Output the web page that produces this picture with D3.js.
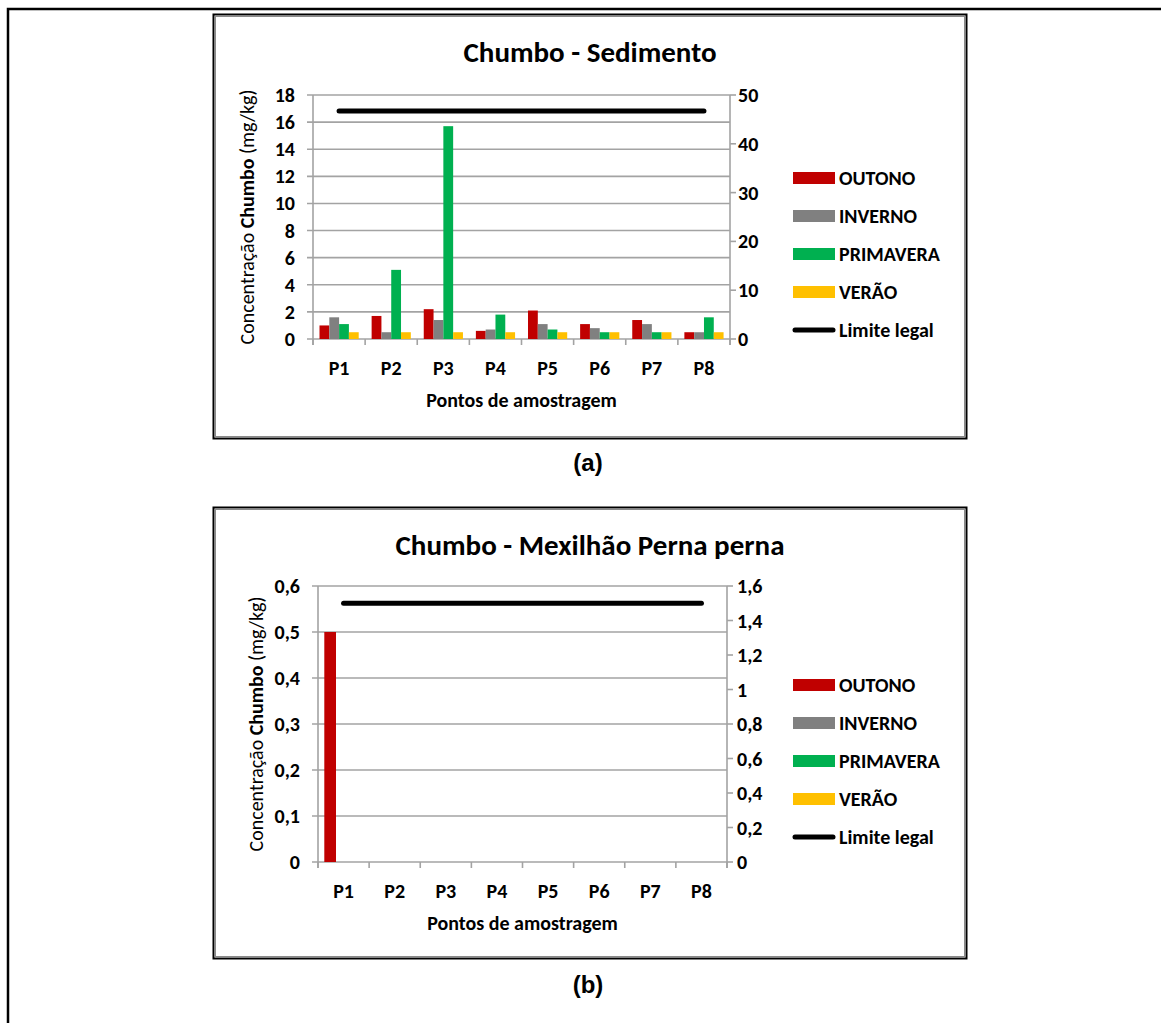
<!DOCTYPE html>
<html><head><meta charset="utf-8">
<script src="https://cdn.jsdelivr.net/npm/d3@7"></script>
<style>
body{margin:0;background:#fff}
svg{display:block}
text{font-family:Carlito,Lato,"Liberation Sans",sans-serif;fill:#000}
</style>
</head><body>
<svg id="c" width="1161" height="1023"></svg>
<script>
// ---------- DATA ----------
const categories = ["P1","P2","P3","P4","P5","P6","P7","P8"];
const seriesNames = ["OUTONO","INVERNO","PRIMAVERA","VERÃO"];
const seriesColors = ["#C00000","#808080","#00B050","#FFC000"];
const limitName = "Limite legal";

// (a) Chumbo - Sedimento (mg/kg), left axis
const sedOutono    = [1.0, 1.7, 2.2, 0.6, 2.1, 1.1, 1.4, 0.5];
const sedInverno   = [1.6, 0.5, 1.4, 0.7, 1.1, 0.8, 1.1, 0.5];
const sedPrimavera = [1.1, 5.1, 15.7, 1.8, 0.7, 0.5, 0.5, 1.6];
const sedVerao     = [0.5, 0.5, 0.5, 0.5, 0.5, 0.5, 0.5, 0.5];
// legal limit, right axis
const sedLimite    = [46.7, 46.7, 46.7, 46.7, 46.7, 46.7, 46.7, 46.7];
const sedLeftTicks  = [0, 2, 4, 6, 8, 10, 12, 14, 16, 18];
const sedRightTicks = [0, 10, 20, 30, 40, 50];

// (b) Chumbo - Mexilhão Perna perna (mg/kg), left axis
const musOutono    = [0.5, 0, 0, 0, 0, 0, 0, 0];
const musInverno   = [0, 0, 0, 0, 0, 0, 0, 0];
const musPrimavera = [0, 0, 0, 0, 0, 0, 0, 0];
const musVerao     = [0, 0, 0, 0, 0, 0, 0, 0];
// legal limit, right axis
const musLimite    = [1.5, 1.5, 1.5, 1.5, 1.5, 1.5, 1.5, 1.5];
const musLeftTicks  = [0, 0.1, 0.2, 0.3, 0.4, 0.5, 0.6];
const musRightTicks = [0, 0.2, 0.4, 0.6, 0.8, 1, 1.2, 1.4, 1.6];

// ---------- DRAW ----------
const loc = d3.formatLocale({decimal: ",", thousands: ".", grouping: [3], currency: ["", ""]});
const fmt = loc.format("~g");
const svg = d3.select("#c");

// outer page frame (top and left edges)
svg.append("path").attr("d", "M8,1023 V9 H1161").attr("fill", "none")
  .attr("stroke", "#000").attr("stroke-width", 2.5);

const GRID = "#a3a3a3";
const FS = 20;

function drawChart(cfg) {
  const g = svg.append("g");
  const [fx, fy, fw, fh] = cfg.frame;
  g.append("rect").attr("x", fx).attr("y", fy).attr("width", fw).attr("height", fh)
    .attr("fill", "#fff").attr("stroke", "#000").attr("stroke-width", 2);
  g.append("rect").attr("x", fx + 1.8).attr("y", fy + 1.8).attr("width", fw - 3.6).attr("height", fh - 3.6)
    .attr("fill", "none").attr("stroke", "#8a8a8a").attr("stroke-width", 1.4);

  const x = d3.scaleBand().domain(categories).range([cfg.px0, cfg.px1]).padding(0);
  const inner = d3.scaleBand().domain(seriesNames)
    .range([cfg.barOff, cfg.barOff + seriesNames.length * cfg.barW]).padding(0);
  const yL = d3.scaleLinear().domain([cfg.leftTicks[0], cfg.leftTicks[cfg.leftTicks.length - 1]]).range([cfg.py1, cfg.py0]);
  const yR = d3.scaleLinear().domain([cfg.rightTicks[0], cfg.rightTicks[cfg.rightTicks.length - 1]]).range([cfg.py1, cfg.py0]);

  // gridlines (extend left as tick marks)
  g.selectAll("line.grid").data(cfg.leftTicks).join("line")
    .attr("x1", cfg.px0 - 6).attr("x2", cfg.px1)
    .attr("y1", d => yL(d)).attr("y2", d => yL(d))
    .attr("stroke", GRID).attr("stroke-width", 1.6);
  // left axis line
  g.append("line").attr("x1", cfg.px0).attr("x2", cfg.px0).attr("y1", cfg.py0).attr("y2", cfg.py1 + 6)
    .attr("stroke", GRID).attr("stroke-width", 1.6);
  // right axis line + ticks
  g.append("line").attr("x1", cfg.px1).attr("x2", cfg.px1).attr("y1", cfg.py0).attr("y2", cfg.py1 + 6)
    .attr("stroke", GRID).attr("stroke-width", 1.6);
  g.selectAll("line.rt").data(cfg.rightTicks).join("line")
    .attr("x1", cfg.px1).attr("x2", cfg.px1 + 6)
    .attr("y1", d => yR(d)).attr("y2", d => yR(d))
    .attr("stroke", GRID).attr("stroke-width", 1.6);
  // bottom ticks at category boundaries
  const bounds = categories.map(c => x(c)).concat([x(categories[categories.length - 1]) + x.bandwidth()]);
  g.selectAll("line.bt").data(bounds).join("line")
    .attr("x1", d => d).attr("x2", d => d).attr("y1", cfg.py1).attr("y2", cfg.py1 + 6)
    .attr("stroke", GRID).attr("stroke-width", 1.6);

  // bars
  cfg.series.forEach((vals, si) => {
    g.selectAll(null).data(vals.map((v, i) => ({v, c: categories[i]}))).join("rect")
      .attr("x", d => x(d.c) + inner(seriesNames[si]))
      .attr("width", inner.bandwidth())
      .attr("y", d => yL(d.v))
      .attr("height", d => yL(0) - yL(d.v))
      .attr("fill", seriesColors[si]);
  });

  // legal limit line (right axis)
  const line = d3.line().x((d, i) => x(categories[i]) + x.bandwidth() / 2).y(d => yR(d));
  g.append("path").attr("d", line(cfg.limit)).attr("fill", "none")
    .attr("stroke", "#000").attr("stroke-width", 5).attr("stroke-linecap", "round");

  // tick labels
  g.selectAll("text.lt").data(cfg.leftTicks).join("text")
    .attr("x", cfg.px0 - 18).attr("y", d => yL(d)).attr("dy", "0.35em")
    .attr("text-anchor", "end").attr("font-weight", "bold").attr("font-size", FS)
    .text(d => fmt(d));
  g.selectAll("text.rtl").data(cfg.rightTicks).join("text")
    .attr("x", cfg.px1 + cfg.rLabGap).attr("y", d => yR(d)).attr("dy", "0.35em")
    .attr("text-anchor", "start").attr("font-weight", "bold").attr("font-size", FS)
    .text(d => fmt(d));
  g.selectAll("text.cat").data(categories).join("text")
    .attr("x", d => x(d) + x.bandwidth() / 2).attr("y", cfg.py1 + 29)
    .attr("dy", "0.35em").attr("text-anchor", "middle").attr("font-weight", "bold").attr("font-size", FS)
    .text(d => d);

  // titles
  g.append("text").attr("x", cfg.titleX).attr("y", cfg.titleY).attr("dy", "0.35em")
    .attr("text-anchor", "middle").attr("font-weight", "bold").attr("font-size", 29)
    .text(cfg.title);
  g.append("text").attr("x", (cfg.px0 + cfg.px1) / 2).attr("y", cfg.py1 + 61).attr("dy", "0.35em")
    .attr("text-anchor", "middle").attr("font-weight", "bold").attr("font-size", FS)
    .text("Pontos de amostragem");
  const yt = g.append("text")
    .attr("transform", `translate(${cfg.yTitleX},${(cfg.py0 + cfg.py1) / 2}) rotate(-90)`)
    .attr("dy", "0.35em").attr("text-anchor", "middle").attr("font-size", FS);
  yt.append("tspan").text("Concentração ");
  yt.append("tspan").attr("font-weight", "bold").text("Chumbo");
  yt.append("tspan").text(" (mg/kg)");

  // legend
  const leg = g.append("g");
  const items = seriesNames.map((n, i) => ({n, c: seriesColors[i], line: false}))
    .concat([{n: limitName, c: "#000", line: true}]);
  items.forEach((it, i) => {
    const yy = cfg.legY + i * 38;
    if (it.line) {
      leg.append("line").attr("x1", 795).attr("x2", 833).attr("y1", yy).attr("y2", yy)
        .attr("stroke", "#000").attr("stroke-width", 5).attr("stroke-linecap", "round");
    } else {
      leg.append("rect").attr("x", 793).attr("y", yy - 6).attr("width", 42).attr("height", 12).attr("fill", it.c);
    }
    leg.append("text").attr("x", 839).attr("y", yy).attr("dy", "0.35em")
      .attr("font-weight", "bold").attr("font-size", FS).text(it.n);
  });

  // panel label
  svg.append("text").attr("x", 588).attr("y", cfg.panelY).attr("dy", "0.35em")
    .attr("text-anchor", "middle").attr("font-weight", "bold").attr("font-size", 24)
    .style("font-family", "Arial, 'Liberation Sans', sans-serif")
    .text(cfg.panel);
}

drawChart({
  frame: [213.5, 14.5, 753, 424],
  px0: 313, px1: 730, py0: 95, py1: 339,
  barOff: 6.5, barW: 9.8,
  leftTicks: sedLeftTicks, rightTicks: sedRightTicks,
  series: [sedOutono, sedInverno, sedPrimavera, sedVerao],
  limit: sedLimite,
  rLabGap: 8,
  title: "Chumbo - Sedimento", titleX: 590, titleY: 52,
  yTitleX: 247, legY: 178, panel: "(a)", panelY: 463
});

drawChart({
  frame: [213.5, 507.5, 753, 451],
  px0: 318, px1: 727, py0: 586, py1: 862,
  barOff: 6.3, barW: 11.7,
  leftTicks: musLeftTicks, rightTicks: musRightTicks,
  series: [musOutono, musInverno, musPrimavera, musVerao],
  limit: musLimite,
  rLabGap: 10,
  title: "Chumbo - Mexilhão Perna perna", titleX: 590, titleY: 545,
  yTitleX: 256, legY: 685, panel: "(b)", panelY: 985
});
</script>
</body></html>
